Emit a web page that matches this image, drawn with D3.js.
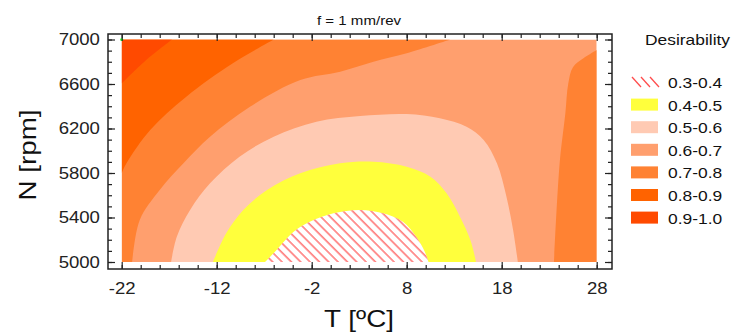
<!DOCTYPE html>
<html>
<head>
<meta charset="utf-8">
<script src="https://cdn.jsdelivr.net/npm/d3@7"></script>
<style>
    body { margin: 0; background: #fff; }
    svg { display: block; font-family: Arial, "Liberation Sans", sans-serif; }
</style>
</head>
<body>
<div id="chart"></div>
<script>
// desirability bands, lowest first
const levels = ['0.3-0.4', '0.4-0.5', '0.5-0.6', '0.6-0.7', '0.7-0.8', '0.8-0.9', '0.9-1.0'];
const colors = ['url(#hatch)', '#ffff3c', '#ffcab3', '#ff9f6e', '#ff8233', '#ff6300', '#ff4a00'];

const xTicks = [-22, -12, -2, 8, 18, 28];
const yTicks = [5000, 5400, 5800, 6200, 6600, 7000];

// contour boundaries, [T, N]
const edge34 = [[-6.9, 5000], [-5.7, 5108], [-3.9, 5272], [-2.2, 5362], [0.3, 5438], [3.1, 5467],
    [5.5, 5438], [7.6, 5362], [9.0, 5227], [9.9, 5093], [10.3, 5000]];
const edge45 = [[-12.4, 5000], [-11.0, 5258], [-9.2, 5467], [-6.7, 5647], [-3.2, 5797], [1.0, 5887],
    [4.5, 5902], [8.0, 5857], [10.5, 5767], [12.2, 5617], [13.6, 5407], [14.7, 5198], [15.3, 5000]];
const edge56 = [[-16.8, 5000], [-16.2, 5227], [-14.8, 5467], [-12.7, 5707], [-9.6, 5947], [-6.0, 6126],
    [-1.5, 6261], [3.1, 6312], [8.0, 6330], [11.5, 6292], [14.3, 6216], [16.1, 6097], [17.5, 5887],
    [18.5, 5587], [19.2, 5288], [19.7, 5000]];
const edge67 = [[12.6, 7000], [8.0, 6876], [4.5, 6800], [1.0, 6711], [-3.2, 6636], [-8.5, 6396],
    [-12.7, 6126], [-15.5, 5887], [-18.0, 5647], [-20.1, 5378], [-20.9, 5000]];
const edge67right = [[23.5, 5000], [24.1, 5887], [24.7, 6337], [25.0, 6600], [25.5, 6750],
    [26.6, 6831], [28, 6906]];
const edge78 = [[-6.0, 7000], [-10.3, 6786], [-15.2, 6486], [-19.0, 6187], [-21.5, 5887], [-22, 5797]];
const edge89 = [[-16.7, 7000], [-19.5, 6810], [-22, 6606]];
const marker = [[-22, 7000]];

const width = 734, height = 334;
const frame = { left: 108, right: 612, top: 34, bottom: 269 };
const stretch = 1.16; // the original text is drawn wide

const svg = d3.select('#chart').append('svg')
    .attr('width', width)
    .attr('height', height);

const x = d3.scaleLinear().domain([-22, 28]).range([121.7, 596.7]);
const y = d3.scaleLinear().domain([5000, 7000]).range([262, 39.5]);

// hatch pattern for the lowest band
const defs = svg.append('defs');
const pat = defs.append('pattern')
    .attr('id', 'hatch')
    .attr('patternUnits', 'userSpaceOnUse')
    .attr('width', 6.6)
    .attr('height', 10)
    .attr('patternTransform', 'rotate(-45)');
pat.append('line')
    .attr('x1', 1).attr('y1', 0).attr('x2', 1).attr('y2', 10)
    .attr('stroke', '#ff4d4d')
    .attr('stroke-width', 1.2);

defs.append('clipPath').attr('id', 'plot-clip')
    .append('rect')
    .attr('x', x(-22)).attr('y', y(7000))
    .attr('width', x(28) - x(-22)).attr('height', y(5000) - y(7000));

const line = d3.line()
    .x(d => x(d[0]))
    .y(d => y(d[1]))
    .curve(d3.curveCatmullRom);

function band(edge, corners) {
    return line(edge) + corners.map(c => 'L' + x(c[0]) + ',' + y(c[1])).join('') + 'Z';
}

const plot = svg.append('g').attr('clip-path', 'url(#plot-clip)');

// background band 0.6-0.7
plot.append('rect')
    .attr('x', x(-22)).attr('y', y(7000))
    .attr('width', x(28) - x(-22)).attr('height', y(5000) - y(7000))
    .attr('fill', colors[3]);

plot.append('path').attr('d', band(edge67, [[-22, 5000], [-22, 7000]])).attr('fill', colors[4]);
plot.append('path').attr('d', band(edge67right, [[28, 5000]])).attr('fill', colors[4]);
plot.append('path').attr('d', band(edge78, [[-22, 7000]])).attr('fill', colors[5]);
plot.append('path').attr('d', band(edge89, [[-22, 7000]])).attr('fill', colors[6]);
plot.append('path').attr('d', band(edge56, [])).attr('fill', colors[2]);
plot.append('path').attr('d', band(edge45, [])).attr('fill', colors[1]);
plot.append('path').attr('d', band(edge34, [])).attr('fill', '#fff');
plot.append('path').attr('d', band(edge34, [])).attr('fill', colors[0]);

svg.selectAll('.marker')
    .data(marker)
    .enter().append('circle')
    .attr('cx', d => x(d[0]))
    .attr('cy', d => y(d[1]))
    .attr('r', 1.6)
    .attr('fill', '#3f3');

// axes: ticks point inward on all four sides
const xMinor = d3.range(-22, 28.01, 2);
const yMinor = d3.range(5000, 7000.01, 100);

function drawAxis(axisFn, scale, pos, major, minor, labels) {
    const gMinor = svg.append('g').attr('transform', pos)
        .call(axisFn(scale).tickValues(minor).tickSize(-4).tickFormat(''));
    const gMajor = svg.append('g').attr('transform', pos)
        .call(axisFn(scale).tickValues(major).tickSize(-7).tickPadding(labels ? labels : 3)
            .tickFormat(labels ? (d => String(d)) : ''));
    [gMinor, gMajor].forEach(g => {
        g.select('.domain').remove();
        g.selectAll('line').attr('stroke', '#222').attr('stroke-width', 1.2);
    });
    gMajor.selectAll('text')
        .attr('font-size', 16)
        .attr('fill', '#222')
        .attr('font-family', 'Arial, "Liberation Sans", sans-serif');
    return gMajor;
}

const gx = drawAxis(d3.axisBottom, x, `translate(0,${frame.bottom})`, xTicks, xMinor, 14);
gx.selectAll('text').attr('transform', `scale(${stretch},1)`);
drawAxis(d3.axisTop, x, `translate(0,${frame.top})`, xTicks, xMinor, 0);

const gy = drawAxis(d3.axisLeft, y, `translate(${frame.left},0)`, yTicks, yMinor, 7);
gy.selectAll('text').attr('transform', `scale(${stretch},1)`);
drawAxis(d3.axisRight, y, `translate(${frame.right},0)`, yTicks, yMinor, 0);

svg.append('rect')
    .attr('x', frame.left).attr('y', frame.top)
    .attr('width', frame.right - frame.left).attr('height', frame.bottom - frame.top)
    .attr('fill', 'none')
    .attr('stroke', '#222')
    .attr('stroke-width', 1.5);

// titles
function addText(tx, ty, str, size, rotate) {
    return svg.append('text')
        .attr('transform', `translate(${tx},${ty})` + (rotate ? ` rotate(${rotate})` : '') + ` scale(${stretch},1)`)
        .attr('font-size', size)
        .attr('fill', '#111')
        .text(str);
}

addText(359, 25, 'f = 1 mm/rev', 13).attr('text-anchor', 'middle');
addText(359, 327, 'T [ºC]', 24).attr('text-anchor', 'middle');
addText(36, 155, 'N [rpm]', 24, -90).attr('text-anchor', 'middle');

// legend
addText(645, 45, 'Desirability', 15);

const legend = svg.append('g');
levels.forEach((lv, i) => {
    const cy = 82 + i * 22.6;
    if (i === 0) {
        [0, 1, 2].forEach(k => {
            legend.append('line')
                .attr('x1', 632 + k * 9).attr('y1', cy - 5)
                .attr('x2', 641 + k * 9).attr('y2', cy + 5)
                .attr('stroke', '#ff4d4d')
                .attr('stroke-width', 1.3);
        });
    } else {
        legend.append('rect')
            .attr('x', 631).attr('y', cy - 6)
            .attr('width', 27).attr('height', 12)
            .attr('fill', colors[i]);
    }
    addText(668, cy + 6, lv, 15);
});
</script>
</body>
</html>
